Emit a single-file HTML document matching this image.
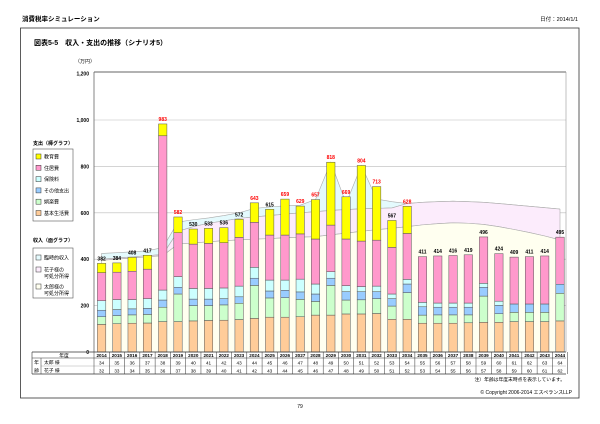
<!DOCTYPE html>
<html><head><meta charset="utf-8"><style>
html,body{margin:0;padding:0;background:#fff;}
svg{display:block;font-family:"Liberation Sans","Noto Sans CJK JP",sans-serif;}
</style></head><body>
<svg id="s" width="600" height="424" viewBox="0 0 600 424" xmlns="http://www.w3.org/2000/svg"></svg>
<script>
var s='';
function T(x,y,t,o){o=o||{};s+='<text x="'+x+'" y="'+y+'" font-size="'+(o.fs||5)+'" fill="'+(o.c||'#000')+'"'+(o.b?' font-weight="bold"':'')+(o.a?' text-anchor="'+o.a+'"':'')+'>'+t+'</text>';}
function R(x,y,w,h,f,st,sw){s+='<rect x="'+x+'" y="'+y+'" width="'+w+'" height="'+h+'" fill="'+f+'"'+(st?' stroke="'+st+'" stroke-width="'+(sw||0.6)+'"':'')+'/>';}
function L(x1,y1,x2,y2,c,w){s+='<line x1="'+x1+'" y1="'+y1+'" x2="'+x2+'" y2="'+y2+'" stroke="'+c+'" stroke-width="'+(w||0.6)+'"/>';}
T(22,21,'消費税率シミュレーション',{fs:6.5,b:1});
T(578,21,'日付：2014/1/1',{fs:5.5,a:'end'});
R(20.5,28,558.5,370,'none','#333',0.8);
T(34,45,'図表5-5　収入・支出の推移（シナリオ5）',{fs:7,b:1});
T(75,63,'（万円）',{fs:5});
var X0=94,X1=566,Y0=352,K=0.232;
function Y(v){return Y0-v*K;}
for(var v=200;v<=1000;v+=200){L(X0,Y(v),X1,Y(v),'#bbb',0.6);}
for(var v=0;v<=1200;v+=200){T(89,Y(v)+2,v==0?'0':(v>=1000?'1,'+String(v-1000).padStart(3,'0'):v),{fs:5,a:'end',b:1});}
var W=15.28;function cx(i){return 101.6+i*W;}
var L1=[395,400,405,410,415,465,470,475,480,483,486,489,492,495,497,505,512,520,527,533,540,548,553,557,555,550,540,528,515,500,483];
var L2=[400,405,410,415,420,520,540,555,565,576,582,588,594,600,605,610,614,617,619,621,640,645,648,650,648,645,640,634,628,622,616];
var L3=[425,428,432,436,450,560,570,578,588,600,619,625,630,633,657,818,640,804,659,648,640,645,648,650,648,645,640,634,628,622,616];
function area(top,bot,f){var p='M';for(var i=0;i<31;i++)p+=cx(i)+','+Y(top[i])+' L';for(var i=30;i>=0;i--)p+=cx(i)+','+Y(bot[i])+(i?' L':'');s+='<path d="'+p+'Z" fill="'+f+'" stroke="#aaa" stroke-width="0.6"/>';}
var Z=[];for(var i=0;i<31;i++)Z.push(0);
area(L3,L2,'#e4fafd');area(L2,L1,'#fcecfc');area(L1,Z,'#fffff0');
var B=[[119,33,28,41,121,40],[122,35,26,43,118,40],[124,36,26,40,122,60],[125,37,26,42,127,60],[131,62,31,43,665,51],
[131,119,29,46,189,68],[134,66,28,46,191,65],[136,64,28,46,194,65],[137,66,27,46,195,65],[140,70,28,46,210,78],
[145,142,31,47,194,84],[150,83,30,47,194,111],[150,84,32,44,194,155],[152,75,32,55,195,120],[159,59,32,43,194,170],
[159,128,31,28,201,271],[164,60,36,26,201,182],[164,61,35,22,196,326],[166,64,30,24,198,231],[141,57,32,20,201,116],
[141,115,37,20,198,117],[124,35,36,19,197,0],[124,36,33,18,203,0],[124,36,33,18,205,0],[126,34,33,18,208,0],
[128,113,38,17,200,0],[128,37,36,18,205,0],[131,40,36,0,202,0],[131,40,36,0,204,0],[131,40,36,0,207,0],[134,119,39,0,203,0]];
var TOT=[382,384,408,417,983,582,530,533,536,572,643,615,659,629,657,818,669,804,713,567,628,411,414,416,419,496,424,409,411,414,495];
var RED=[0,0,0,0,1,1,0,0,0,0,1,0,1,1,1,1,1,1,1,0,1,0,0,0,0,0,0,0,0,0,0];
var COL=['#ffcc99','#ccffcc','#99ccff','#ccffff','#ff99cc','#ffff00'];
for(var i=0;i<31;i++){var acc=0,sum=0;B[i].forEach(function(v){sum+=v;});var sc=TOT[i]/sum;
 for(var j=0;j<6;j++){var v=B[i][j]*sc;if(v<=0)continue;R(cx(i)-4.2,Y(acc+v),8.4,v*K,COL[j],'#555',0.5);acc+=v;}
 T(cx(i),Y(TOT[i])-3,TOT[i],{fs:5,a:'middle',c:RED[i]?'#ff0000':'#000',b:1});}
L(X0,72,X1,72,'#333',0.8);L(X0,72,X0,352,'#666',0.8);L(X1,72,X1,352,'#999',0.6);
T(33,145,'支出（棒グラフ）',{fs:5,b:1});
R(33,149,40,72,'#fff','#555',0.6);
var LN=['教育費','住居費','保険料','その他支出','娯楽費','基本生活費'];var LC=['#ffff00','#ff99cc','#ccffff','#99ccff','#ccffcc','#ffcc99'];
for(var k=0;k<6;k++){var yy=154+k*11.3;R(36,yy,5,5,LC[k],'#333',0.5);T(44,yy+4.5,LN[k],{fs:5});}
T(33,242,'収入（面グラフ）',{fs:5,b:1});
R(33,248,40,50,'#fff','#555',0.6);
R(36,255,5,5,'#e4fafd','#333',0.5);T(44,259.5,'臨時的収入',{fs:5});
R(36,267,5,5,'#fcecfc','#333',0.5);T(44,271.5,'花子様の',{fs:5});T(44,278,'可処分所得',{fs:5});
R(36,284,5,5,'#fffff0','#333',0.5);T(44,288.5,'太郎様の',{fs:5});T(44,295,'可処分所得',{fs:5});
var TY=352;L(32,TY,X1,TY,'#333',0.8);L(32,TY,32,374,'#333',0.6);L(32,374,X1,374,'#333',0.8);
L(32,358,X1,358,'#333',0.6);L(41,366,X1,366,'#999',0.4);L(41,358,41,374,'#333',0.5);
T(64,357,'年度',{fs:4.8,a:'middle'});T(36.5,364,'年',{fs:4.8,a:'middle'});T(36.5,372,'齢',{fs:4.8,a:'middle'});
T(44,364,'太郎 様',{fs:4.8});T(44,372,'花子 様',{fs:4.8});
for(var i=0;i<=31;i++){L(X0+i*W,TY,X0+i*W,374,'#333',0.5);}
for(var i=0;i<31;i++){T(cx(i),357,2014+i,{fs:4.6,a:'middle',b:1});T(cx(i),364.5,34+i,{fs:4.6,a:'middle'});T(cx(i),372.5,32+i,{fs:4.6,a:'middle'});}
T(565,381,'注）年齢は年度末時点を表示しています。',{fs:4.8,a:'end'});
T(572,394,'© Copyright 2006-2014 エスペランスLLP',{fs:5,a:'end'});
T(300,408,'79',{fs:5,a:'middle'});
document.getElementById('s').innerHTML=s;
</script>
</body></html>
